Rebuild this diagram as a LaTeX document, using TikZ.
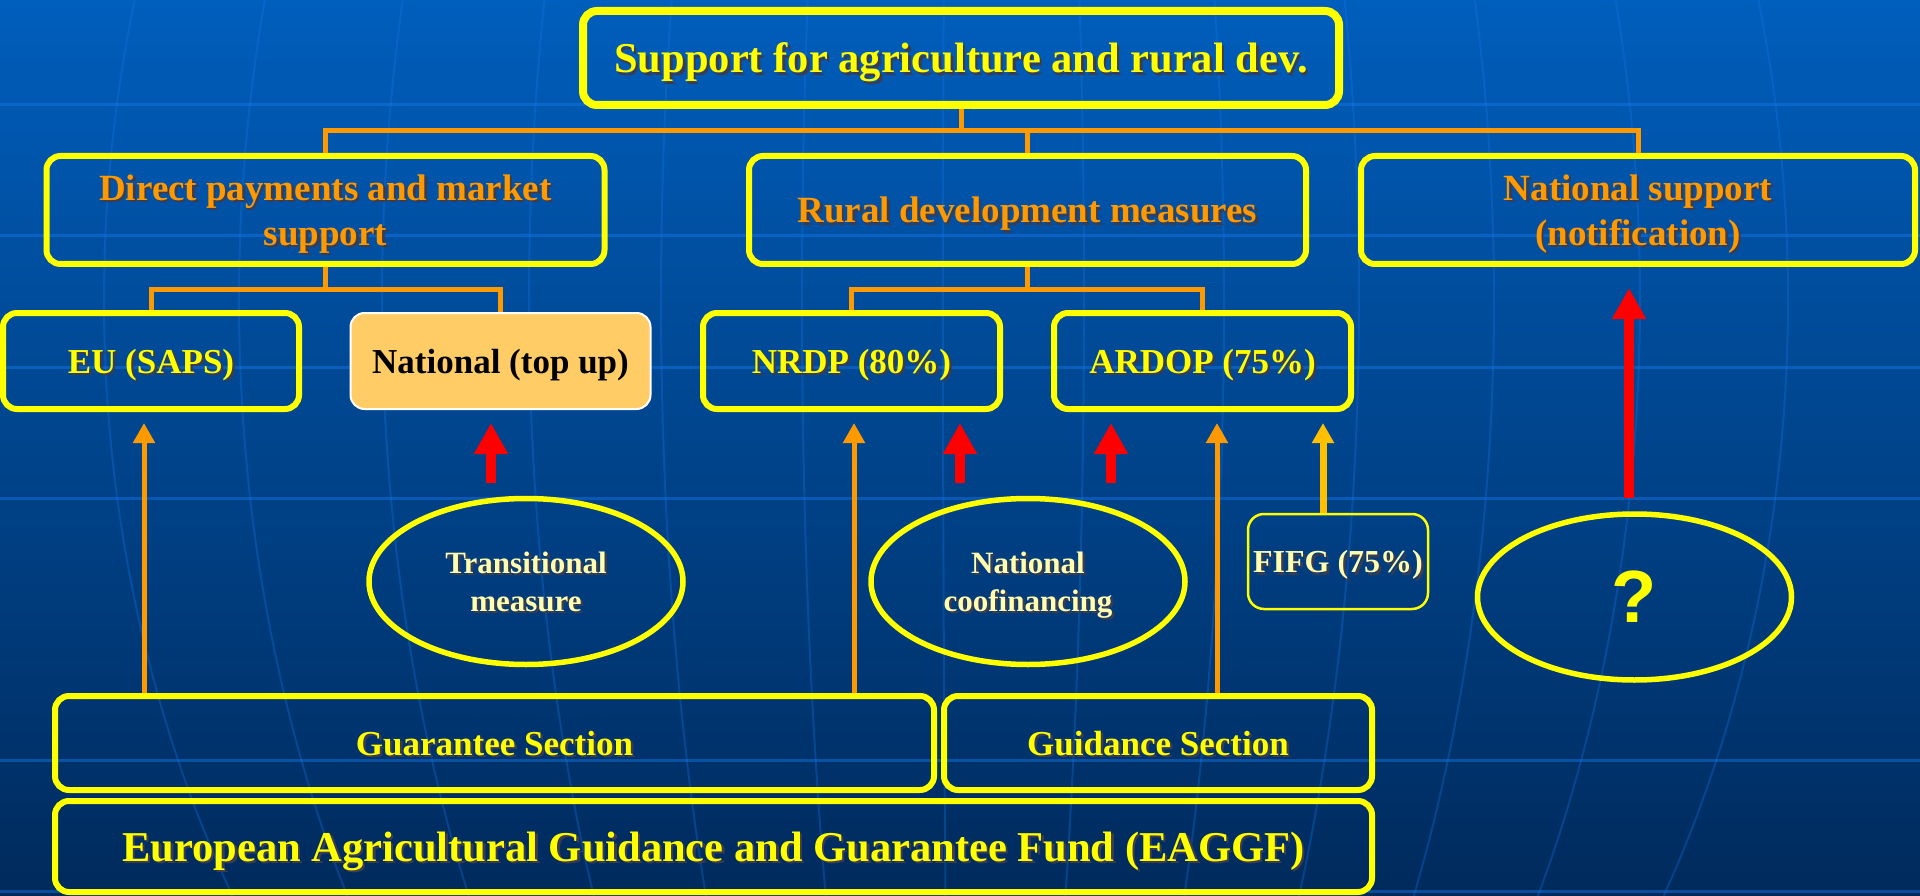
\documentclass[tikz,border=0pt]{standalone}
\usepackage{fontspec}
\setmainfont{Liberation Serif}
\newfontfamily\qfont{Liberation Sans}
\usetikzlibrary{shapes.geometric,arrows.meta}

\definecolor{bgtop}{RGB}{0,94,188}
\definecolor{bgbot}{RGB}{0,42,92}
\definecolor{gridblue}{RGB}{20,120,235}
\definecolor{boxyellow}{RGB}{255,255,0}
\definecolor{txtorange}{RGB}{255,153,0}
\definecolor{paleyellow}{RGB}{255,255,175}
\definecolor{topupfill}{RGB}{255,204,102}
\definecolor{fifggold}{RGB}{255,192,0}
\definecolor{shadowgray}{RGB}{60,60,80}

\newcommand{\shtext}[1]{\leavevmode\rlap{\kern2.5pt\raisebox{-2.5pt}{\textcolor{shadowgray}{#1}}}#1}

\begin{document}
\begin{tikzpicture}[x=1pt,y=1pt]
      \tikzstyle{every node}+=[inner sep=0pt, text depth=0pt]
      \tikzstyle{ybox}=[rectangle, draw=boxyellow, line width=6pt, rounded corners=14pt]
      \tikzstyle{bigtxt}=[font=\fontsize{42.5}{51}\selectfont\bfseries, text=boxyellow]
      \tikzstyle{midtxt}=[font=\fontsize{37}{45}\selectfont\bfseries, text=txtorange, align=center]
      \tikzstyle{lowtxt}=[font=\fontsize{35}{42}\selectfont\bfseries, text=boxyellow]
      \tikzstyle{oval}=[ellipse, draw=boxyellow, line width=5.5pt, minimum width=314pt, minimum height=166pt, text=paleyellow, font=\fontsize{31}{38}\selectfont\bfseries, align=center]
      \tikzstyle{link}=[txtorange, line width=5pt]
      \tikzstyle{uparrow}=[txtorange, line width=5pt, -{Triangle[length=20pt,width=21pt]}]
      \tikzstyle{redup}=[red, line width=10pt, -{Triangle[length=31pt,width=32pt]}]
      \tikzstyle{bgline}=[gridblue, line width=3pt, opacity=0.45]
      \tikzstyle{meridian}=[gridblue, line width=2pt, opacity=0.3]
      \useasboundingbox (0,0) rectangle (1920,-896);
      \shade [top color=bgtop, bottom color=bgbot] (0,0) rectangle (1920,-896);
      \foreach \yy in {105,236,367,498,760,891}
        \draw [bgline] (0,-\yy) -- (1920,-\yy);
      \foreach \u in {-856,-721,-578,-431,-299,-158,-17,124,264,399,534,680,828}
        \draw [meridian] plot [domain=0:896, samples=25, smooth] ({960+\u*sqrt(1-((\x-300)/1131)^2)}, -\x);
      \node [ybox, line width=8pt, minimum width=756pt, minimum height=94pt, bigtxt] (top) at (961,-58) {\shtext{Support for agriculture and rural dev.}};
      \node [ybox, minimum width=558pt, minimum height=108pt, midtxt] (direct) at (325.5,-210) {\shtext{Direct payments and market}\\\shtext{support}};
      \node [ybox, minimum width=557pt, minimum height=108pt, midtxt] (rural) at (1027.5,-210) {\shtext{Rural development measures}};
      \node [ybox, minimum width=554pt, minimum height=108pt, midtxt] (natsup) at (1638,-210) {\shtext{National support}\\\shtext{(notification)}};
      \node [ybox, minimum width=296pt, minimum height=96pt, lowtxt] (eu) at (151,-361) {\shtext{EU (SAPS)}};
      \node [ybox, draw=white, line width=2pt, fill=topupfill, minimum width=300pt, minimum height=96pt, lowtxt, text=black] (topup) at (500.5,-361) {National (top up)};
      \node [ybox, minimum width=297pt, minimum height=96pt, lowtxt] (nrdp) at (851.5,-361) {\shtext{NRDP (80\%)}};
      \node [ybox, minimum width=297pt, minimum height=96pt, lowtxt] (ardop) at (1202.5,-361) {\shtext{ARDOP (75\%)}};
      \node [oval] (trans) at (526,-581.5) {\shtext{Transitional}\\\shtext{measure}};
      \node [oval] (cofin) at (1028,-581.5) {\shtext{National}\\\shtext{coofinancing}};
      \node [oval, text=boxyellow, font=\qfont\fontsize{74}{80}\selectfont\bfseries] (quest) at (1634.5,-597) {?};
      \node [ybox, line width=2.5pt, rounded corners=16pt, minimum width=180pt, minimum height=95pt, font=\fontsize{32}{38}\selectfont\bfseries, text=paleyellow] (fifg) at (1338,-561.5) {\shtext{FIFG (75\%)}};
      \node [ybox, minimum width=879pt, minimum height=94pt, lowtxt] (guar) at (494.5,-743) {\shtext{Guarantee Section}};
      \node [ybox, minimum width=428pt, minimum height=94pt, lowtxt] (guid) at (1158,-743) {\shtext{Guidance Section}};
      \node [ybox, minimum width=1317pt, minimum height=91pt, bigtxt] (eaggf) at (713.5,-846.5) {\shtext{European Agricultural Guidance and Guarantee Fund (EAGGF)}};
      \draw [link] (top.south) -- ++(0,-21.5) coordinate (j1);
      \draw [link] (j1) -| (direct.north);
      \draw [link] (j1) -| (rural.north);
      \draw [link] (j1) -| (natsup.north);
      \draw [link] (direct.south) -- ++(0,-22.25) coordinate (j2);
      \draw [link] (j2) -| (eu.north);
      \draw [link] (j2) -| (topup.north);
      \draw [link] (rural.south) -- ++(0,-22.25) coordinate (j3);
      \draw [link] (j3) -| (nrdp.north);
      \draw [link] (j3) -| (ardop.north);
      \coordinate (tipA) at (144,-423);
      \coordinate (tipB) at (854,-423);
      \coordinate (tipC) at (1217,-423);
      \coordinate (tipD) at (1323,-423);
      \draw [uparrow] (tipA |- guar.north) -- (tipA);
      \draw [uparrow] (tipB |- guar.north) -- (tipB);
      \draw [uparrow] (tipC |- guid.north) -- (tipC);
      \draw [uparrow, fifggold, line width=7pt] (tipD |- fifg.north) -- (tipD);
      \coordinate (redA) at (491,-423);
      \coordinate (redB) at (960,-423);
      \coordinate (redC) at (1111,-423);
      \coordinate (redD) at (1629,-288);
      \draw [redup] ([yshift=-60pt]redA) -- (redA);
      \draw [redup] ([yshift=-60pt]redB) -- (redB);
      \draw [redup] ([yshift=-60pt]redC) -- (redC);
      \draw [redup] ([yshift=-210pt]redD) -- (redD);
\end{tikzpicture}
\end{document}
